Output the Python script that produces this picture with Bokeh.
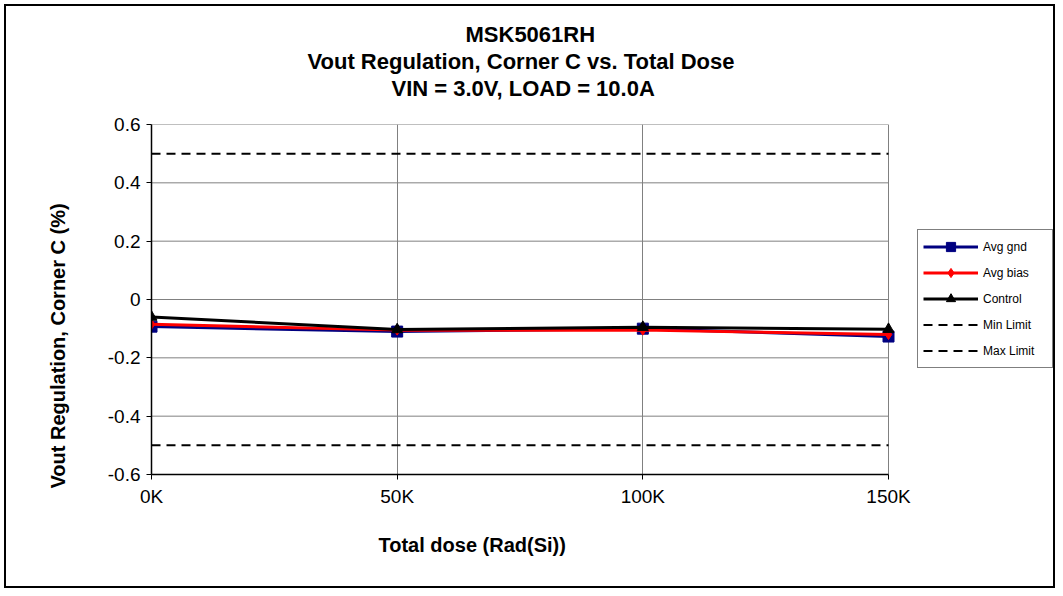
from bokeh.plotting import figure
from bokeh.models import (Range1d, FixedTicker, Title, Legend, LegendItem, ColumnDataSource)
from bokeh.embed import file_html
from bokeh.resources import INLINE

dose = [0, 50000, 100000, 150000]
dose_labels = ["0K", "50K", "100K", "150K"]
avg_gnd = [-0.093, -0.110, -0.100, -0.127]
avg_bias = [-0.085, -0.105, -0.105, -0.120]
control = [-0.060, -0.103, -0.095, -0.102]
min_limit = [-0.5, -0.5, -0.5, -0.5]
max_limit = [0.5, 0.5, 0.5, 0.5]
y_ticks = [-0.6, -0.4, -0.2, 0.0, 0.2, 0.4, 0.6]
y_tick_labels = ["-0.6", "-0.4", "-0.2", "0", "0.2", "0.4", "0.6"]

FONT = "Liberation Sans"
X_MIN, X_MAX = dose[0], dose[-1]
# frame is widened to the right so the legend sits inside it (737 px of data, 904 px frame)
X_VIEW_END = X_MAX * 904 / 737

p = figure(width=1051, height=584, output_backend="svg", toolbar_location=None,
           x_range=Range1d(X_MIN, X_VIEW_END), y_range=Range1d(-0.6, 0.6),
           min_border_left=145, min_border_right=2, min_border_top=118, min_border_bottom=116)
p.outline_line_color = None
p.background_fill_color = "white"
p.border_fill_color = "white"
p.styles = {"border": "2px solid black", "margin": "4px"}

# spacer between the frame and the title block
p.add_layout(Title(text=" ", text_font_size="10px", standoff=11), "above")
titles = [("VIN = 3.0V, LOAD = 10.0A", 240),
          ("Vout Regulation, Corner C vs. Total Dose", 156),
          ("MSK5061RH", 314)]
for txt, off in titles:
    t = Title(text=txt, align="left", text_font=FONT, text_font_size="22px",
              text_font_style="bold", text_color="black", offset=off, standoff=0)
    p.add_layout(t, "above")

p.xaxis.ticker = FixedTicker(ticks=dose)
p.xaxis.major_label_overrides = {d: l for d, l in zip(dose, dose_labels)}
p.xaxis.bounds = (X_MIN, X_MAX)
p.yaxis.ticker = FixedTicker(ticks=y_ticks)
p.yaxis.major_label_overrides = {v: l for v, l in zip(y_ticks, y_tick_labels)}

for ax in [p.xaxis[0], p.yaxis[0]]:
    ax.axis_line_color = "black"
    ax.axis_line_width = 1.5
    ax.major_tick_line_color = "black"
    ax.major_tick_out = 5
    ax.major_tick_in = 0
    ax.minor_tick_line_color = None
    ax.major_label_text_font = FONT
    ax.major_label_text_font_size = "19px"
    ax.major_label_text_color = "black"
    ax.major_label_standoff = 6

xlab = Title(text="Total dose (Rad(Si))", align="left", offset=227, standoff=45,
             text_font=FONT, text_font_size="20px", text_font_style="bold", text_color="black")
p.add_layout(xlab, "below")
ylab = Title(text="Vout Regulation, Corner C (%)", align="left", offset=-14, standoff=72,
             text_font=FONT, text_font_size="20px", text_font_style="bold", text_color="black")
p.add_layout(ylab, "left")

p.xgrid.grid_line_color = "#808080"
p.xgrid.grid_line_width = 1
# horizontal grid lines limited to the data extent
p.ygrid.visible = False
p.segment(x0=[X_MIN] * len(y_ticks), x1=[X_MAX] * len(y_ticks), y0=y_ticks, y1=y_ticks,
          line_color="#808080", line_width=1, level="underlay")

src = ColumnDataSource(dict(x=dose, gnd=avg_gnd, bias=avg_bias, ctrl=control,
                            mn=min_limit, mx=max_limit))

l_min = p.line("x", "mn", source=src, line_color="black", line_width=2, line_dash="9 6")
l_max = p.line("x", "mx", source=src, line_color="black", line_width=2, line_dash="9 6")

l_gnd = p.line("x", "gnd", source=src, line_color="#000080", line_width=3)
s_gnd = p.scatter("x", "gnd", source=src, marker="square", size=11, fill_color="#000080", line_color="#000080")
l_bias = p.line("x", "bias", source=src, line_color="#FF0000", line_width=3)
s_bias = p.scatter("x", "bias", source=src, marker="diamond", size=10, fill_color="#FF0000", line_color="#FF0000")
l_ctrl = p.line("x", "ctrl", source=src, line_color="black", line_width=3)
s_ctrl = p.scatter("x", "ctrl", source=src, marker="triangle", size=11, fill_color="black", line_color="black")

legend = Legend(items=[
    LegendItem(label="Avg gnd", renderers=[l_gnd, s_gnd]),
    LegendItem(label="Avg bias", renderers=[l_bias, s_bias]),
    LegendItem(label="Control", renderers=[l_ctrl, s_ctrl]),
    LegendItem(label="Min Limit", renderers=[l_min]),
    LegendItem(label="Max Limit", renderers=[l_max]),
], location=(766, 106), orientation="vertical")
legend.label_text_font = FONT
legend.label_text_font_size = "12px"
legend.label_text_color = "black"
legend.glyph_width = 55
legend.glyph_height = 23
legend.spacing = 3
legend.padding = 5
legend.margin = 0
legend.label_standoff = 5
legend.label_width = 64
legend.border_line_color = "black"
legend.border_line_width = 1.5
legend.background_fill_alpha = 1
p.add_layout(legend, "center")

open("out.html", "w").write(file_html(p, INLINE))
